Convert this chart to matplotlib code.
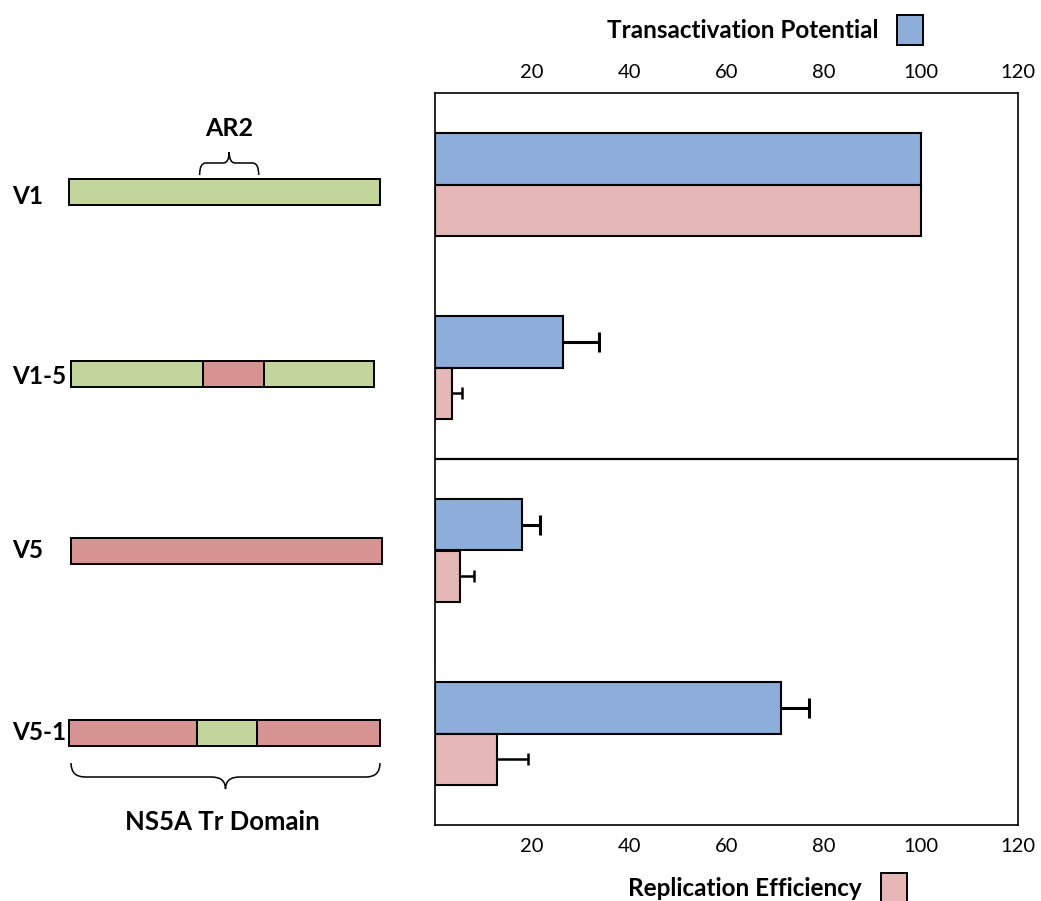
import numpy as np
import matplotlib
matplotlib.use("Agg")
import matplotlib.pyplot as plt
from matplotlib.patches import Rectangle, PathPatch
from matplotlib.path import Path

plt.rcParams['font.family'] = ['Lato', 'DejaVu Sans']

# ---- data ----
constructs = ['V1', 'V1-5', 'V5', 'V5-1']
transactivation = [100, 26.3, 18.0, 71.2]
transactivation_err = [0, 7.5, 3.6, 5.7]
replication = [100, 3.6, 5.2, 12.7]
replication_err = [0, 2.0, 2.9, 6.4]
x_ticks = [20, 40, 60, 80, 100, 120]

# chimera make-up: (source genotype, start, end) as fraction of the Tr domain
segments = {
    'V1': [('V1', 0.0, 1.0)],
    'V1-5': [('V1', 0.0, 0.435), ('V5', 0.435, 0.637), ('V1', 0.637, 1.0)],
    'V5': [('V5', 0.0, 1.0)],
    'V5-1': [('V5', 0.0, 0.412), ('V1', 0.412, 0.605), ('V5', 0.605, 1.0)],
}
ar2_region = (0.42, 0.61)

blue = '#8DAEDA'
pink = '#E5B7B6'
seg_colors = {'V1': '#C2D59B', 'V5': '#D69391'}

W, H = 1041, 901
fig = plt.figure(figsize=(W / 100, H / 100), dpi=100)

# overlay axes in pixel coords for the construct drawings and labels
ov = fig.add_axes([0, 0, 1, 1])
ov.set_xlim(0, W)
ov.set_ylim(H, 0)
ov.axis('off')

row_y = [192, 374, 551, 733]
row_x = [(69, 380), (71, 374), (71, 382), (69, 380)]
label_y = [197, 377, 551, 733]
bh = 26


def brace(ax, x0, x1, ye, ym, yt, r):
    xc = (x0 + x1) / 2
    verts = [(x0, ye), (x0, ym), (x0 + r, ym),
             (xc - r, ym),
             (xc, ym), (xc, yt),
             (xc, ym), (xc + r, ym),
             (x1 - r, ym),
             (x1, ym), (x1, ye)]
    codes = [Path.MOVETO, Path.CURVE3, Path.CURVE3,
             Path.LINETO,
             Path.CURVE3, Path.CURVE3,
             Path.CURVE3, Path.CURVE3,
             Path.LINETO,
             Path.CURVE3, Path.CURVE3]
    ax.add_patch(PathPatch(Path(verts, codes), fill=False, lw=1.1, edgecolor='black'))


for name, yc, (xl, xr), ly in zip(constructs, row_y, row_x, label_y):
    L = xr - xl
    for src, s, e in segments[name]:
        ov.add_patch(Rectangle((xl + s * L, yc - bh / 2), (e - s) * L, bh,
                               facecolor=seg_colors[src], edgecolor='black', lw=1.4))
    ov.text(12, ly, name, fontsize=17.5, fontweight='bold', ha='left', va='center')

# AR2 brace over V1
xl, xr = row_x[0]
a0 = xl + ar2_region[0] * (xr - xl)
a1 = xl + ar2_region[1] * (xr - xl)
brace(ov, a0, a1, 175, 163, 152, 6)
ov.text((a0 + a1) / 2, 129, 'AR2', fontsize=18, fontweight='bold', ha='center', va='center')

# Tr domain brace under V5-1
xl, xr = row_x[3]
brace(ov, xl + 2, xr, 763, 777, 789, 14)
ov.text((xl + xr) / 2 - 2, 822, 'NS5A Tr Domain', fontsize=18.5, fontweight='bold',
        ha='center', va='center')

# axis titles with colour keys
ov.text(743, 31, 'Transactivation Potential', fontsize=17.5, fontweight='bold',
        ha='center', va='center')
ov.add_patch(Rectangle((897, 15), 26, 30, facecolor=blue, edgecolor='black', lw=1.4))
ov.text(745, 888, 'Replication Efficiency', fontsize=17.5, fontweight='bold',
        ha='center', va='center')
ov.add_patch(Rectangle((881, 873), 26, 32, facecolor=pink, edgecolor='black', lw=1.4))

# ---- bar chart ----
ax = fig.add_axes([435 / W, 1 - 825 / H, 583 / W, 732 / H])
y = np.arange(len(constructs))
h = 0.28
ax.barh(y - h / 2, transactivation, height=h, color=blue, edgecolor='black', lw=1.5)
ax.barh(y + h / 2, replication, height=h, color=pink, edgecolor='black', lw=1.5)

# one-sided error bars, cap only at the outer end
for vals, errs, off, cap, lw in [(transactivation, transactivation_err, -h / 2, 14, 2.2),
                                 (replication, replication_err, h / 2, 9, 1.8)]:
    for i, (v, e) in enumerate(zip(vals, errs)):
        if e > 0:
            ax.plot([v, v + e], [i + off, i + off], color='black', lw=lw,
                    solid_capstyle='butt')
            ax.plot(v + e, i + off, marker='|', ms=cap, mew=lw, color='black')

ax.axhline(1.5, color='black', lw=1.6)
ax.set_xlim(0, 120)
ax.set_ylim(3.5, -0.5)
ax.set_xticks(x_ticks)
ax.set_yticks([])
ax.tick_params(axis='x', length=0, labeltop=True, labelbottom=True, labelsize=14.5, pad=9)
for sp in ax.spines.values():
    sp.set_linewidth(1.2)

fig.savefig('out.png', dpi=100)
